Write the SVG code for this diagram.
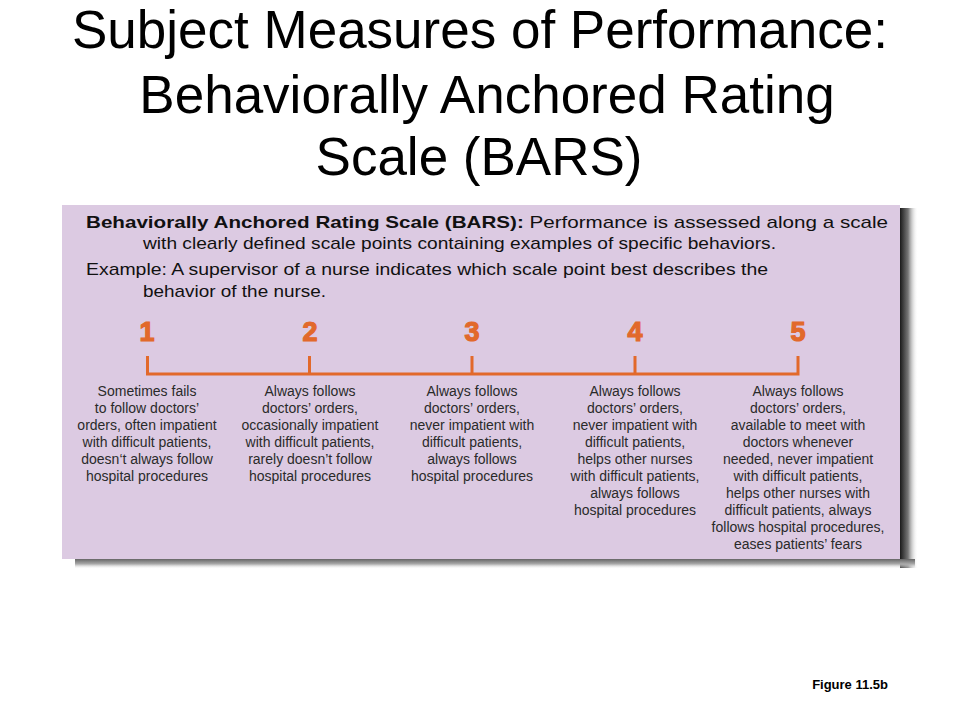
<svg xmlns="http://www.w3.org/2000/svg" width="960" height="720" viewBox="0 0 960 720">
<style>
.title{font-family:"Liberation Sans",Arial,sans-serif;font-size:53px;fill:#000;text-anchor:middle}
.hd{font-family:"Liberation Sans",Arial,sans-serif;font-size:17px;fill:#111}
.num{font-family:"Liberation Sans",Arial,sans-serif;font-size:27px;font-weight:bold;fill:#E2692B;stroke:#E2692B;stroke-width:1.2;text-anchor:middle}
.desc{font-family:"Liberation Sans",Arial,sans-serif;font-size:14px;fill:#2a2a2a;text-anchor:middle}
.scale{stroke:#E2692B;stroke-width:3;fill:none}
.fig{font-family:"Liberation Sans",Arial,sans-serif;font-size:13px;font-weight:bold;fill:#000;text-anchor:end}
</style>
<defs>
<linearGradient id="shR" x1="0" y1="0" x2="1" y2="0">
<stop offset="0" stop-color="#1a1a1a"/>
<stop offset="0.45" stop-color="#777"/>
<stop offset="1" stop-color="#fff" stop-opacity="0"/>
</linearGradient>
<linearGradient id="shB" x1="0" y1="0" x2="0" y2="1">
<stop offset="0" stop-color="#666"/>
<stop offset="0.5" stop-color="#aaa"/>
<stop offset="1" stop-color="#fff" stop-opacity="0"/>
</linearGradient>
</defs>
<rect width="960" height="720" fill="#fff"/>
<g id="title">
<text class="title" x="480" y="48">Subject Measures of Performance:</text>
<text class="title" x="487" y="113">Behaviorally Anchored Rating</text>
<text class="title" x="479" y="175">Scale (BARS)</text>
</g>
<g id="panel">
<rect x="900" y="208" width="18" height="360" fill="url(#shR)"/>
<rect x="75" y="559" width="840" height="10" fill="url(#shB)"/>
<rect x="62" y="205" width="838" height="354" fill="#DCCAE2"/>
<text class="hd" x="86" y="228" textLength="802" lengthAdjust="spacingAndGlyphs"><tspan font-weight="bold">Behaviorally Anchored Rating Scale (BARS):</tspan> Performance is assessed along a scale</text>
<text class="hd" x="143" y="249" textLength="633" lengthAdjust="spacingAndGlyphs">with clearly defined scale points containing examples of specific behaviors.</text>
<text class="hd" x="86" y="275" textLength="682" lengthAdjust="spacingAndGlyphs">Example: A supervisor of a nurse indicates which scale point best describes the</text>
<text class="hd" x="143" y="297" textLength="183" lengthAdjust="spacingAndGlyphs">behavior of the nurse.</text>
</g>
<g id="connectors">
<path class="scale" d="M147.5 356 V374 H798 V356 M309.5 356 V374 M472 356 V374 M635 356 V374"/>
</g>
<g id="point1">
<text class="num" x="147" y="341">1</text>
<text class="desc" x="147" y="396"><tspan x="147">Sometimes fails</tspan><tspan x="147" dy="17">to follow doctors’</tspan><tspan x="147" dy="17">orders, often impatient</tspan><tspan x="147" dy="17">with difficult patients,</tspan><tspan x="147" dy="17">doesn‘t always follow</tspan><tspan x="147" dy="17">hospital procedures</tspan></text>
</g>
<g id="point2">
<text class="num" x="310" y="341">2</text>
<text class="desc" x="310" y="396"><tspan x="310">Always follows</tspan><tspan x="310" dy="17">doctors’ orders,</tspan><tspan x="310" dy="17">occasionally impatient</tspan><tspan x="310" dy="17">with difficult patients,</tspan><tspan x="310" dy="17">rarely doesn’t follow</tspan><tspan x="310" dy="17">hospital procedures</tspan></text>
</g>
<g id="point3">
<text class="num" x="472" y="341">3</text>
<text class="desc" x="472" y="396"><tspan x="472">Always follows</tspan><tspan x="472" dy="17">doctors’ orders,</tspan><tspan x="472" dy="17">never impatient with</tspan><tspan x="472" dy="17">difficult patients,</tspan><tspan x="472" dy="17">always follows</tspan><tspan x="472" dy="17">hospital procedures</tspan></text>
</g>
<g id="point4">
<text class="num" x="635" y="341">4</text>
<text class="desc" x="635" y="396"><tspan x="635">Always follows</tspan><tspan x="635" dy="17">doctors’ orders,</tspan><tspan x="635" dy="17">never impatient with</tspan><tspan x="635" dy="17">difficult patients,</tspan><tspan x="635" dy="17">helps other nurses</tspan><tspan x="635" dy="17">with difficult patients,</tspan><tspan x="635" dy="17">always follows</tspan><tspan x="635" dy="17">hospital procedures</tspan></text>
</g>
<g id="point5">
<text class="num" x="798" y="341">5</text>
<text class="desc" x="798" y="396"><tspan x="798">Always follows</tspan><tspan x="798" dy="17">doctors’ orders,</tspan><tspan x="798" dy="17">available to meet with</tspan><tspan x="798" dy="17">doctors whenever</tspan><tspan x="798" dy="17">needed, never impatient</tspan><tspan x="798" dy="17">with difficult patients,</tspan><tspan x="798" dy="17">helps other nurses with</tspan><tspan x="798" dy="17">difficult patients, always</tspan><tspan x="798" dy="17">follows hospital procedures,</tspan><tspan x="798" dy="17">eases patients’ fears</tspan></text>
</g>
<text class="fig" x="888" y="689">Figure 11.5b</text>
</svg>
